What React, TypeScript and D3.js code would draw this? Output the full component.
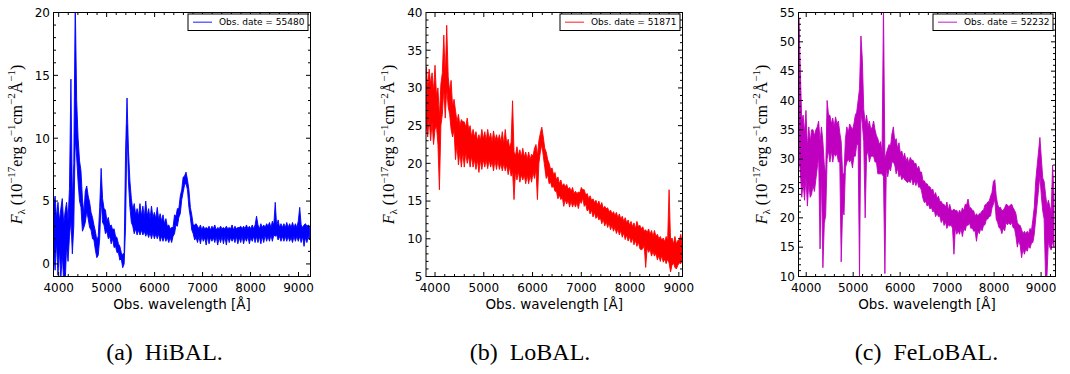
import React from 'react';
import * as d3 from 'd3';

const W = 1070;
const H = 374;

// ---------- data: flux range [low, high] (1e-17 erg/s/cm2/Å) in 30 Å bins ----------
const hiWave = d3.range(3895, 9236, 30);
const hiFlux: [number, number][] = [
  [1.0, 4.5], [-0.5, 5.4], [1.8, 3.6], [-0.9, 4.9], [1.2, 3.4], [-1.2, 4.4], [0.8, 5.2], [-1.5, 3.2], [-1.5, 4.2], [1.4, 4.9],
  [0.2, 3.4], [2.2, 6.0], [3.5, 14.7], [0.8, 5.0], [3.0, 8.0], [10, 21], [8.5, 13], [6.5, 10], [5, 8.2], [4.5, 7.4],
  [2.6, 5.2], [2.9, 4.0], [3.3, 5.8], [4.2, 6.2], [3.6, 5.4], [2.9, 4.9], [2.7, 4.1], [2.0, 3.7], [1.9, 3.1], [1.1, 2.6],
  [0.5, 1.9], [0.7, 2.2], [2.0, 4.5], [5.2, 7.6], [3.3, 5.2], [3.1, 4.4], [2.4, 4.3], [2.6, 3.4], [2.0, 3.7], [2.2, 3.0],
  [1.6, 3.1], [2.0, 2.7], [1.3, 2.8], [1.4, 2.2], [0.9, 2.1], [0.9, 1.6], [0.3, 1.4], [0.4, 0.9], [-0.3, 0.7], [0.0, 0.9],
  [3.0, 9.0], [11, 13.2], [6.5, 9], [4.5, 6.6], [3.3, 5.2], [3.0, 4.3], [2.4, 4.8], [2.8, 3.9], [2.3, 4.4], [2.7, 3.8],
  [2.3, 4.8], [2.7, 3.8], [2.3, 4.6], [2.6, 3.7], [2.2, 5.0], [2.5, 3.8], [2.1, 4.4], [2.5, 3.6], [2.0, 4.6], [2.5, 3.7],
  [2.0, 4.1], [2.4, 3.6], [2.0, 4.5], [2.4, 3.5], [1.8, 4.0], [2.2, 3.4], [1.8, 3.9], [2.2, 3.2], [1.8, 3.6], [2.1, 3.0],
  [1.7, 3.1], [2.1, 2.8], [1.7, 2.9], [2.2, 2.9], [2.4, 3.9], [3.1, 3.8], [3.0, 4.4], [3.7, 4.4], [4.0, 5.4], [5.1, 5.9],
  [5.7, 6.9], [6.3, 7.0], [6.4, 7.3], [5.9, 6.7], [4.5, 5.9], [3.7, 4.5], [2.7, 3.9], [2.4, 3.1], [1.9, 3.1], [2.1, 3.2],
  [1.7, 3.0], [2.2, 2.8], [1.6, 3.1], [2.2, 2.7], [1.8, 3.0], [2.1, 2.8], [1.5, 2.9], [2.2, 2.8], [1.6, 3.0], [2.1, 2.7],
  [1.8, 3.0], [2.1, 2.8], [1.7, 3.1], [2.2, 2.7], [1.5, 2.9], [2.1, 2.8], [1.7, 3.0], [2.2, 2.8], [1.6, 2.9], [2.2, 2.8],
  [1.5, 3.0], [2.2, 2.8], [1.7, 2.9], [2.1, 2.8], [1.8, 3.1], [2.1, 2.7], [1.7, 3.0], [2.2, 2.8], [1.6, 2.9], [2.1, 2.9],
  [1.7, 3.0], [2.2, 2.8], [1.6, 3.0], [2.1, 2.8], [1.8, 3.1], [2.2, 2.8], [1.6, 3.0], [2.1, 2.8], [1.8, 3.1], [2.2, 2.8],
  [1.7, 3.1], [2.2, 3.8], [1.7, 3.1], [2.2, 2.8], [1.6, 3.2], [2.2, 2.9], [1.7, 3.1], [2.3, 2.9], [1.8, 3.2], [2.2, 3.0],
  [1.8, 3.3], [2.3, 2.9], [1.8, 3.4], [2.3, 3.1], [2.2, 4.9], [2.3, 3.0], [1.9, 3.5], [2.2, 2.9], [1.8, 3.2], [2.2, 2.9],
  [1.8, 3.2], [2.2, 2.9], [1.8, 3.3], [2.2, 2.9], [1.8, 3.2], [2.1, 2.9], [1.7, 3.3], [2.2, 2.9], [1.8, 3.2], [2.2, 2.9],
  [1.8, 3.4], [2.2, 4.5], [1.7, 3.1], [2.2, 2.9], [1.4, 3.1], [2.1, 3.2], [1.7, 3.0], [2.2, 3.1], [1.9, 2.9],
];

const loWave = d3.range(3820, 9071, 30);
const loFlux: [number, number][] = [
  [25, 32.8], [23.5, 30], [26, 32.5], [23, 30.5], [25.5, 32], [22.5, 29.5], [24.5, 33], [25, 29], [22.5, 30], [16.5, 26],
  [25, 30.5], [26.5, 32], [30, 37], [26, 31.5], [30, 38.3], [27.5, 31.5], [26.5, 29.5], [24.5, 31], [23.5, 27.5], [24.5, 28.5],
  [20.5, 27], [22.5, 25.5], [19.8, 26.5], [21.5, 25], [19.5, 25.8], [21.5, 25.5], [19.5, 25.5], [21.5, 24.8], [20, 26], [21, 24.5],
  [19.5, 25], [21, 23.5], [19.5, 24.5], [20.5, 23.5], [19.2, 24.2], [20.5, 23], [18.8, 23.8], [20.5, 23], [19.2, 24.5], [20.5, 23.2],
  [19.5, 24.2], [20.5, 23], [19.3, 24.5], [20.5, 23.2], [19.5, 24], [20.3, 22.8], [19, 24.3], [20.5, 23], [19.2, 23.8], [20.4, 23],
  [19.2, 23.8], [20, 22.8], [19, 24.2], [20, 22.5], [19, 24.5], [19.8, 22.6], [18.5, 23.2], [19.6, 22], [18.3, 22.8], [19, 28.3],
  [15.2, 21.5], [19, 21], [17.8, 22.2], [19, 21], [17.5, 21.8], [18.5, 20.8], [17.8, 22], [18.5, 20.8], [17.3, 21.5], [18.5, 20.5],
  [17.3, 21.5], [18.5, 20.5], [17.5, 21.2], [18.8, 21], [18, 22], [19.2, 22.5], [15.2, 21], [20, 23], [21.5, 24], [22.5, 24.8],
  [21, 23.5], [19.5, 22], [18, 21.5], [18.5, 20.5], [17.3, 20], [17.5, 19.2], [16.8, 19.4], [17, 18.5], [16.3, 18.8], [16.3, 17.8],
  [15.3, 18.2], [15.8, 17.3], [15.2, 17.8], [15.5, 17], [14.3, 17.3], [15.2, 16.9], [14.6, 17.2], [15.1, 16.6], [14.2, 16.8], [15, 16.3],
  [14.2, 16.8], [14.8, 16], [14.2, 16.3], [14.8, 16], [14, 16.2], [15, 16.1], [14.7, 16.8], [15.4, 16.5], [14.3, 16.5], [14.6, 15.8],
  [13.7, 16], [14, 15.3], [13.3, 15.7], [13.8, 15.1], [12.9, 15.3], [13.5, 14.8], [12.7, 15.1], [13.1, 14.5], [12.5, 15], [12.8, 14.3],
  [12, 14.8], [12.6, 14], [11.7, 14.3], [12.3, 14], [11.5, 14.1], [12.1, 13.6], [11.2, 13.8], [11.8, 13.3], [11, 13.6], [11.5, 13.1],
  [10.7, 13.5], [11.3, 12.8], [10.5, 13.3], [11.1, 12.6], [10.2, 13], [10.8, 12.3], [9.9, 12.8], [10.5, 12.1], [9.7, 12.5], [10.3, 11.8],
  [9.5, 12.3], [10.1, 11.6], [9.2, 12.1], [9.8, 11.3], [9, 12.3], [9.6, 11.6], [8.7, 11.8], [8.5, 11.3], [8.7, 11.6], [9.1, 11],
  [6.2, 11.2], [8.8, 10.8], [8.2, 11.3], [8.6, 10.6], [7.7, 11.1], [8.3, 10.3], [7.7, 11.1], [8.1, 10.3], [7.2, 10.6], [7.8, 10],
  [7, 10.3], [7.8, 9.8], [6.9, 10.1], [7.3, 9.6], [6.7, 10.3], [7.3, 9.8], [6.8, 16.5], [5.6, 9.8], [6.5, 10.1], [6.8, 9.3],
  [6.2, 10.3], [6, 9.3], [6.5, 9.8], [6.8, 9.8], [6.7, 10.6], [7.2, 9.3],
];

const feWave = d3.range(3845, 9276, 30);
const feFlux: [number, number][] = [
  [30, 54], [28, 45], [23.5, 36.5], [26, 37.5], [23, 34.5], [27, 38.3], [22, 32], [26, 35.5], [23.5, 33], [24, 35],
  [25.5, 35], [24.5, 34], [26.5, 35], [28.5, 35.5], [30.5, 36.5], [14.7, 33], [28, 35.5], [11.5, 33], [19, 29], [20.5, 27.5],
  [30, 40], [31.5, 37.5], [29.5, 37.5], [31.5, 36], [29.5, 37], [31, 35.5], [30.5, 37.2], [31, 36], [29.5, 36.5], [29.5, 34.5],
  [12.5, 33], [21.5, 27.5], [20.5, 27.5], [28.5, 33.5], [29.5, 35.5], [30, 34.5], [29.5, 36], [30, 35.5], [28.5, 35], [30.5, 36],
  [30.5, 37.5], [32.5, 38], [32.5, 40], [10, 42], [38, 51], [36, 47], [33, 38.5], [20, 36], [30.5, 37.5], [31.5, 35.5],
  [29.5, 36.5], [30.5, 35], [30.5, 35.5], [30.5, 36.5], [29.5, 35], [29.5, 34], [27.5, 33.5], [27.5, 32.5], [27.5, 33], [27.5, 31],
  [27, 56], [10.5, 30], [28.5, 31], [27, 31.8], [28.5, 32.5], [28, 32.2], [29.5, 34.3], [29.5, 35.5], [29, 33], [27.5, 33.5],
  [28.5, 31.8], [27, 32.8], [27.5, 31], [26.5, 31.4], [27, 30.2], [26.5, 31], [26.3, 29.7], [26, 30.3], [26.3, 29.3], [26, 30.3],
  [26.8, 29.8], [25.6, 29.8], [26.3, 29.2], [25.5, 29.3], [26.3, 28.3], [25.2, 28.8], [25.3, 27.8], [24.6, 27.8], [23.3, 26.3], [22.6, 26.3],
  [22.8, 25.8], [22, 25.8], [22.3, 25.3], [21.5, 25.3], [21.8, 24.7], [21, 24.9], [21.3, 23.8], [20.2, 24.3], [20.8, 23.3], [20.2, 23.7],
  [20.3, 22.8], [19.2, 22.8], [19.8, 22.3], [18.7, 22.3], [19.3, 21.8], [18.2, 22.7], [18.8, 21.3], [18.6, 22.3], [18.8, 21.3], [18.2, 21.2],
  [13.8, 21.5], [18.3, 21.2], [17.2, 21.3], [17.8, 20.7], [17.2, 21.3], [18.2, 20.8], [16.8, 21.7], [18.2, 21.2], [17.8, 22.3], [18.8, 22.2],
  [18.7, 23.2], [19.2, 21.8], [18.2, 21.7], [18.3, 21.3], [17.7, 21.2], [17.8, 20.3], [16, 20.7], [17.8, 20.3], [17.3, 20.7], [18.2, 20.8],
  [17.8, 21.2], [18.7, 21.3], [18.8, 22.2], [19.7, 22.3], [19.8, 22.7], [20.2, 22.8], [20.3, 23.7], [21.7, 24.3], [22.3, 26.2], [23.2, 26.5],
  [19.8, 23.7], [19.2, 22.3], [18.3, 21.7], [18.2, 21.8], [17.3, 21.2], [18.2, 21.3], [17.8, 21.7], [19.2, 22.3], [18.8, 22.2], [19.2, 21.8],
  [18.8, 22.2], [19.2, 22.3], [18.3, 21.7], [18.2, 21.3], [16.8, 20.7], [15, 19.2], [16.2, 18.8], [15.3, 18.7], [13.2, 18], [14.7, 17.3],
  [13.8, 17.7], [14.7, 17.3], [14.3, 17.7], [15.2, 17.3], [14.8, 18.2], [15.7, 17.8], [15.8, 19.7], [17.2, 21.8], [19.8, 26.2], [22.2, 28.8],
  [24.8, 31.2], [27.2, 33.7], [23.8, 30.2], [21.2, 26.8], [19.8, 26.2], [10, 24], [10, 22], [16, 23], [15, 22], [14.5, 21],
  [16, 29], [15, 24],
];

const xMajor = [4000, 5000, 6000, 7000, 8000, 9000];
const legendDates = ['55480', '51871', '52232'];
const captions = ['(a)', '(b)', '(c)'];
const captionNames = ['HiBAL.', 'LoBAL.', 'FeLoBAL.'];

// ---------- layout ----------
const TOP = 12.5;
const BOTTOM = 276.5;

const panels = [
  { left: 53.5, right: 310.5, xDom: [3892, 9250], yDom: [-1, 20], wave: hiWave, flux: hiFlux, color: '#0000ff', capX: 164.5 },
  { left: 426, right: 682.5, xDom: [3815, 9075], yDom: [5, 40], wave: loWave, flux: loFlux, color: '#ff0000', capX: 530 },
  { left: 798.5, right: 1055.5, xDom: [3836, 9307], yDom: [10, 55], wave: feWave, flux: feFlux, color: '#bf00bf', capX: 926.5 },
];

const SANS = 'DejaVu Sans, sans-serif';
const SERIF = 'Liberation Serif, Times New Roman, serif';

function YLabel({ x, y }: { x: number; y: number }) {
  const fs = 16;
  const sfs = 11;
  return (
    <text transform={`translate(${x},${y}) rotate(-90)`} textAnchor="middle" fontFamily={SERIF} fontSize={fs} fill="#000">
      <tspan fontStyle="italic">F</tspan>
      <tspan fontSize={sfs} dy={3}>λ</tspan>
      <tspan dy={-3}> (10</tspan>
      <tspan fontSize={sfs} dy={-6.5}>−17</tspan>
      <tspan dy={6.5}>erg s</tspan>
      <tspan fontSize={sfs} dy={-6.5}>−1</tspan>
      <tspan dy={6.5}>cm</tspan>
      <tspan fontSize={sfs} dy={-6.5}>−2</tspan>
      <tspan dy={6.5}>Å</tspan>
      <tspan fontSize={sfs} dy={-6.5}>−1</tspan>
      <tspan dy={6.5}>)</tspan>
    </text>
  );
}

function Panel({ p, i }: { p: any; i: number }) {
  const x = d3.scaleLinear().domain(p.xDom).range([p.left, p.right]);
  const y = d3.scaleLinear().domain(p.yDom).range([BOTTOM, TOP]);
  const bins: { w: number; lo: number; hi: number }[] = p.wave.map((w: number, k: number) => ({ w, lo: p.flux[k][0], hi: p.flux[k][1] }));
  // the noisy spectrum is drawn as the band it fills at this scale
  const band = d3
    .area<{ w: number; lo: number; hi: number }>()
    .x((d) => x(d.w))
    .y0((d) => y(d.lo))
    .y1((d) => y(d.hi));
  const xMinor = d3.range(Math.ceil(p.xDom[0] / 200) * 200, p.xDom[1], 200).filter((v: number) => v % 1000 !== 0);
  const yMajor = d3.range(Math.ceil(p.yDom[0] / 5) * 5, p.yDom[1] + 0.001, 5);
  const yMinor = d3.range(Math.ceil(p.yDom[0]), p.yDom[1], 1).filter((v: number) => v % 5 !== 0);
  const clipId = `clip${i}`;
  const MJ = 4.5;
  const MN = 2.5;
  const legR = p.right - 2.5;
  const legL = legR - 120;
  const legT = TOP + 1.5;
  const legB = legT + 16.5;
  return (
    <g>
      <defs>
        <clipPath id={clipId}>
          <rect x={p.left} y={TOP} width={p.right - p.left} height={BOTTOM - TOP} />
        </clipPath>
      </defs>
      <path d={band(bins) || ''} fill={p.color} stroke={p.color} strokeWidth={0.9} clipPath={`url(#${clipId})`} strokeLinejoin="round" />
      <rect x={p.left} y={TOP} width={p.right - p.left} height={BOTTOM - TOP} fill="none" stroke="#000" strokeWidth={1} />
      {xMajor.map((v) => (
        <g key={'xM' + v}>
          <line x1={x(v)} x2={x(v)} y1={BOTTOM} y2={BOTTOM - MJ} stroke="#000" />
          <line x1={x(v)} x2={x(v)} y1={TOP} y2={TOP + MJ} stroke="#000" />
          <text x={x(v)} y={BOTTOM + 15.5} textAnchor="middle" fontFamily={SANS} fontSize={12} fill="#000">{v}</text>
        </g>
      ))}
      {xMinor.map((v: number) => (
        <g key={'xm' + v}>
          <line x1={x(v)} x2={x(v)} y1={BOTTOM} y2={BOTTOM - MN} stroke="#000" />
          <line x1={x(v)} x2={x(v)} y1={TOP} y2={TOP + MN} stroke="#000" />
        </g>
      ))}
      {yMajor.map((v: number) => (
        <g key={'yM' + v}>
          <line x1={p.left} x2={p.left + MJ} y1={y(v)} y2={y(v)} stroke="#000" />
          <line x1={p.right} x2={p.right - MJ} y1={y(v)} y2={y(v)} stroke="#000" />
          <text x={p.left - 3.5} y={y(v)} dy="0.36em" textAnchor="end" fontFamily={SANS} fontSize={12} fill="#000">{v}</text>
        </g>
      ))}
      {yMinor.map((v: number) => (
        <g key={'ym' + v}>
          <line x1={p.left} x2={p.left + MN} y1={y(v)} y2={y(v)} stroke="#000" />
          <line x1={p.right} x2={p.right - MN} y1={y(v)} y2={y(v)} stroke="#000" />
        </g>
      ))}
      <text x={(p.left + p.right) / 2} y={BOTTOM + 32} textAnchor="middle" fontFamily={SANS} fontSize={13.5} fill="#000">Obs. wavelength [Å]</text>
      <YLabel x={p.left - 32} y={(TOP + BOTTOM) / 2} />
      <rect x={legL} y={legT} width={legR - legL} height={legB - legT} fill="#fff" stroke="#000" strokeWidth={1} />
      <line x1={legL + 5} x2={legL + 24} y1={(legT + legB) / 2} y2={(legT + legB) / 2} stroke={p.color} strokeOpacity={0.6} strokeWidth={1.5} />
      <text x={legL + 31} y={(legT + legB) / 2} dy="0.36em" fontFamily={SANS} fontSize={9} fill="#000">Obs. date = {legendDates[i]}</text>
      <text x={p.capX} y={360} textAnchor="middle" fontFamily={SERIF} fontSize={24} fill="#000" xmlSpace="preserve">{captions[i] + '\u2002' + captionNames[i]}</text>
    </g>
  );
}

export default function App() {
  return (
    <svg width={W} height={H} style={{ position: 'absolute', left: 0, top: 0, background: '#fff' }}>
      <rect x={0} y={0} width={W} height={H} fill="#fff" />
      {panels.map((p, i) => (
        <Panel key={i} p={p} i={i} />
      ))}
    </svg>
  );
}
